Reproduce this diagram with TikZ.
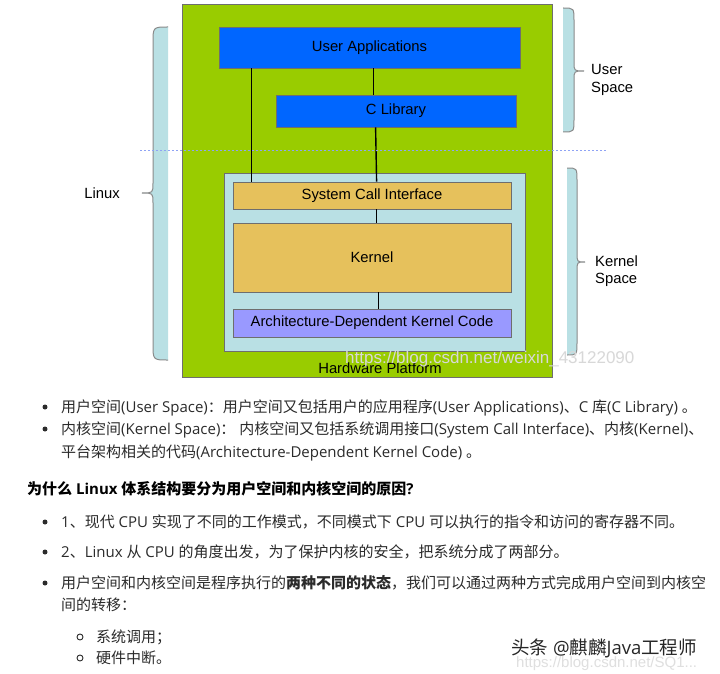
\documentclass[tikz,border=0pt]{standalone}
\usepackage{fontspec}
\setmainfont{Liberation Sans}
\newfontfamily\latinfont{Open Sans}
\newfontfamily\cjkfont{Noto Sans CJK SC}
\usetikzlibrary{calc}
\newXeTeXintercharclass\cjkcls
\newcount\mycc
\mycc="3000 \loop \XeTeXcharclass\mycc=\cjkcls \advance\mycc 1 \ifnum\mycc<"3040 \repeat
\mycc="4E00 \loop \XeTeXcharclass\mycc=\cjkcls \advance\mycc 1 \ifnum\mycc<"A000 \repeat
\mycc="FF00 \loop \XeTeXcharclass\mycc=\cjkcls \advance\mycc 1 \ifnum\mycc<"FFF0 \repeat
\XeTeXinterchartoks 0 \cjkcls = {\cjkfont}
\XeTeXinterchartoks 4095 \cjkcls = {\cjkfont}
\XeTeXinterchartoks \cjkcls 0 = {\latinfont}
\XeTeXinterchartoks \cjkcls 4095 = {\latinfont}
\XeTeXinterchartokenstate=1
\definecolor{hwgreen}{HTML}{99CC00}
\definecolor{ublue}{HTML}{0066FF}
\definecolor{ksky}{HTML}{B9E0E4}
\definecolor{korange}{HTML}{E6C15C}
\definecolor{archv}{HTML}{9999FF}
\definecolor{bordgray}{HTML}{6E6E6E}
\definecolor{txtgray}{HTML}{2B2B2B}
\definecolor{dotblue}{HTML}{8FA3F5}
\definecolor{bracegray}{HTML}{8A8A8A}
\definecolor{wmgray}{HTML}{D8D8D8}
\tikzset{
  box/.style={draw=bordgray, line width=0.8pt, inner sep=0pt, font=\fontsize{14.8}{17}\selectfont},
  dlabel/.style={inner sep=0pt, font=\fontsize{14.8}{17.5}\selectfont, align=left},
  conn/.style={line width=1.4pt, black},
  bracefill/.style={fill=ksky, draw=none},
  braceline/.style={draw=bracegray, line width=1pt},
  body/.style={inner sep=0pt, anchor=base west, text=txtgray, font=\latinfont\fontsize{15}{18}\selectfont},
  dotb/.style={circle, fill=txtgray, inner sep=0pt, minimum size=5pt},
  ringb/.style={circle, draw=txtgray, line width=0.9pt, inner sep=0pt, minimum size=6pt},
}
\begin{document}
\begin{tikzpicture}[x=1pt, y=-1pt]
\useasboundingbox[fill=white] (0,0) rectangle (720,674);
% braces
\path[bracefill] (563,8) .. controls (574,8) .. (574,21) -- (574,62) .. controls (574,71) .. (584,71) .. controls (574,71) .. (574,80) -- (574,119) .. controls (574,132) .. (563,132) -- cycle;
\path[braceline] (563,8) .. controls (574,8) .. (574,21) -- (574,62) .. controls (574,71) .. (584,71) .. controls (574,71) .. (574,80) -- (574,119) .. controls (574,132) .. (563,132);
\path[bracefill] (567,168) .. controls (577,168) .. (577,181) -- (577,253) .. controls (577,262) .. (585,262) .. controls (577,262) .. (577,271) -- (577,342) .. controls (577,355) .. (567,355) -- cycle;
\path[braceline] (567,168) .. controls (577,168) .. (577,181) -- (577,253) .. controls (577,262) .. (585,262) .. controls (577,262) .. (577,271) -- (577,342) .. controls (577,355) .. (567,355);
\path[bracefill] (168,27) .. controls (153,27) .. (153,43) -- (153,183) .. controls (153,193) .. (142,193) .. controls (153,193) .. (153,203) -- (153,344) .. controls (153,360) .. (168,360) -- cycle;
\path[braceline] (168,27) .. controls (153,27) .. (153,43) -- (153,183) .. controls (153,193) .. (142,193) .. controls (153,193) .. (153,203) -- (153,344) .. controls (153,360) .. (168,360);
\node[dlabel, anchor=east] (linux) at (120,193) {Linux};
\node[dlabel, anchor=west] (uspace) at (591,80) {User\\Space};
\node[dlabel, anchor=west] (kspace) at (595,271) {Kernel\\Space};
% boxes
\node[box, fill=hwgreen, minimum width=370pt, minimum height=373pt] (hw) at (367,190.5) {};
\node[box, fill=ksky, minimum width=301pt, minimum height=178pt] (ks) at (374.5,262) {};
\node[box, fill=ublue, minimum width=301pt, minimum height=41pt] (ua) at (369.5,47.5) {User Applications};
\node[box, fill=ublue, minimum width=240pt, minimum height=32pt] (clib) at (396,111) {C Library};
\node[box, fill=korange, minimum width=278pt, minimum height=27pt] (sci) at (372,195.5) {System Call Interface};
\node[box, fill=korange, minimum width=278pt, minimum height=69pt] (kern) at (372,257.5) {Kernel};
\node[box, fill=archv, minimum width=278pt, minimum height=28pt] (arch) at (372,323) {Architecture-Dependent Kernel Code};
\node[dlabel] (hwt) at (380,368) {Hardware Platform};
\node[inner sep=0pt, anchor=west, text=wmgray, font=\fontsize{17}{17}\selectfont] (wm1) at (345,359) {https://blog.csdn.net/weixin\_43122090};
% connectors
\draw[conn] ($(ua.south west)+(33,0)$) -- ($(sci.north west)+(19,0)$);
\draw[conn] ($(ua.south west)+(155,0)$) -- ($(clib.north west)+(98,0)$);
\draw[conn] ($(clib.south west)+(100,0)$) -- ($(sci.north west)+(144,0)$);
\draw[conn] ($(sci.south west)+(144,0)$) -- ($(kern.north west)+(144,0)$);
\draw[conn] ($(kern.south west)+(146,0)$) -- ($(arch.north west)+(146,0)$);
% dotted divider
\coordinate (dl) at (140,150);
\coordinate (dr) at (607,150);
\draw[dotblue, dash pattern=on 2pt off 2pt, line width=0.9pt] (dl) -- (dr);
% text section
\node[dotb] (b1) at (45,407) {};
\node[body] (t1) at (61,412) {用户空间(User Space)：用户空间又包括用户的应用程序(User Applications)、C 库(C Library) 。};
\node[dotb] (b2) at (45,429) {};
\node[body] (t2) at (61,434.5) {内核空间(Kernel Space)： 内核空间又包括系统调用接口(System Call Interface)、内核(Kernel)、};
\node[body] (t3) at (61,457) {平台架构相关的代码(Architecture-Dependent Kernel Code) 。};
\node[body, text=black, font=\latinfont\bfseries\fontsize{15}{18}\selectfont] (h1) at (27,494) {为什么 Linux 体系结构要分为用户空间和内核空间的原因?};
\node[dotb] (b3) at (45,522) {};
\node[body] (t4) at (61,527) {1、现代 CPU 实现了不同的工作模式，不同模式下 CPU 可以执行的指令和访问的寄存器不同。};
\node[dotb] (b4) at (45,552) {};
\node[body] (t5) at (61,557) {2、Linux 从 CPU 的角度出发，为了保护内核的安全，把系统分成了两部分。};
\node[dotb] (b5) at (45,583) {};
\node[body] (t6) at (61,588) {用户空间和内核空间是程序执行的{\bfseries\cjkfont 两种不同的状态}，我们可以通过两种方式完成用户空间到内核空};
\node[body] (t7) at (61,610.5) {间的转移：};
\node[ringb] (s1) at (80,637) {};
\node[body] (t8) at (96,642) {系统调用；};
\node[ringb] (s2) at (80,658) {};
\node[body] (t9) at (96,663.5) {硬件中断。};
\node[inner sep=0pt, anchor=west, text=gray!25, font=\fontsize{15}{15}\selectfont] (wm3) at (516,664) {https://blog.csdn.net/SQ1...};
\node[inner sep=0pt, anchor=west, text=black!85, font=\latinfont\fontsize{18.5}{20}\selectfont] (wm2) at (511,648) {头条 @麒麟Java工程师};
\end{tikzpicture}
\end{document}
